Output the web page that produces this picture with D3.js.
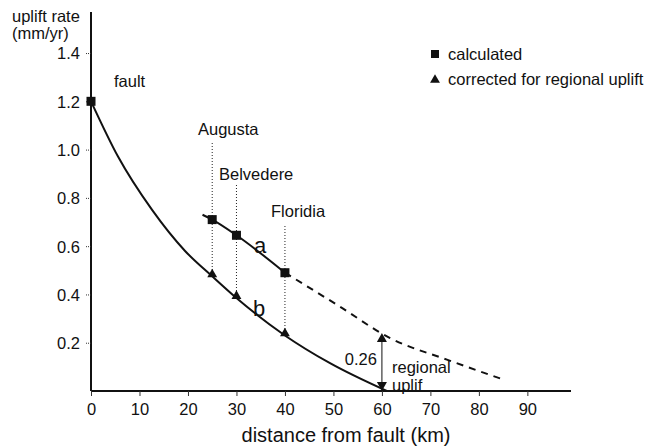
<!DOCTYPE html>
<html>
<head>
  <meta charset="utf-8">
  <title>Uplift rate vs distance from fault</title>
  <style>
    body { margin: 0; background: #fff; }
    svg { display: block; }
    text { font-family: "Liberation Sans", Arial, sans-serif; fill: #111; }
  </style>
  <script src="https://cdn.jsdelivr.net/npm/d3@7"></script>
</head>
<body>
<div id="chart"></div>
<script>

var width = 662,
    height = 448;

// tick values
var xTicks = [0, 10, 20, 30, 40, 50, 60, 70, 80, 90];
var yTicks = [0.2, 0.4, 0.6, 0.8, 1.0, 1.2, 1.4];

// sites (km, calculated, corrected)
var siteNames = ["Augusta", "Belvedere", "Floridia"];
var siteDist = [25, 30, 40];
var calculated = [0.71, 0.645, 0.49];
var corrected = [0.475, 0.385, 0.23];

// fault point
var faultPoint = [0, 1.2];

// curve a (solid part, then dashed extrapolation)
var curveA = [[23, 0.73], [25, 0.71], [30, 0.645], [40, 0.49]];
var curveADashed = [[40, 0.49], [51.3, 0.35], [61.6, 0.22], [73.4, 0.13], [85.4, 0.045]];

// curve b
var curveB = [[0, 1.2], [5.6, 0.97], [12.6, 0.75], [19.4, 0.58], [25, 0.475],
              [30, 0.385], [40, 0.23], [49.3, 0.115], [61, 0]];

// regional uplift arrow
var regional = {x: 60, top: 0.24, value: "0.26"};

var fs = "16.5px";

var svg = d3.select("#chart").append("svg")
  .attr("width", width)
  .attr("height", height);

var x = d3.scaleLinear().domain([0, 99]).range([91, 571]);
var y = d3.scaleLinear().domain([0, 1.57]).range([391, 12]);

// axes
var xAxis = d3.axisBottom(x).tickValues(xTicks).tickSize(5).tickPadding(7)
  .tickFormat(d3.format("d"));
var yAxis = d3.axisLeft(y).tickValues(yTicks).tickSize(5).tickPadding(6)
  .tickFormat(d3.format(".1f"));

var gx = svg.append("g").attr("transform", "translate(0," + y(0) + ")").call(xAxis);
var gy = svg.append("g").attr("transform", "translate(" + x(0) + ",0)").call(yAxis);

[gx, gy].forEach(function(g) {
  g.select(".domain").attr("stroke", "#111").attr("stroke-width", 2);
  g.selectAll(".tick line").attr("stroke", "#333").attr("stroke-width", 1);
  g.selectAll(".tick text")
    .style("font-family", "Liberation Sans, Arial, sans-serif")
    .style("font-size", fs)
    .attr("fill", "#111");
});
gy.selectAll(".tick line").attr("stroke-dasharray", "1,1");
gy.selectAll(".tick text").attr("dy", "0.36em");
gx.select(".domain").attr("d", "M" + x(0) + ",0H" + x(99));
gy.select(".domain").attr("d", "M0," + y(0) + "V" + y(1.57));

// axis titles
svg.append("text").attr("x", 12).attr("y", 22).style("font-size", fs).text("uplift rate");
svg.append("text").attr("x", 12).attr("y", 39).style("font-size", fs).text("(mm/yr)");
svg.append("text").attr("x", 346).attr("y", 442).attr("text-anchor", "middle")
  .style("font-size", "20px").text("distance from fault (km)");

var line = d3.line()
  .x(function(d) { return x(d[0]); })
  .y(function(d) { return y(d[1]); })
  .curve(d3.curveMonotoneX);

// dotted guide lines
svg.selectAll(".guide").data(siteDist).enter().append("line")
  .attr("x1", function(d) { return x(d); })
  .attr("x2", function(d) { return x(d); })
  .attr("y1", function(d, i) { return [143, 185, 226][i]; })
  .attr("y2", function(d, i) { return y(corrected[i]); })
  .attr("stroke", "#222").attr("stroke-width", 1).attr("stroke-dasharray", "1,2");

svg.append("path").datum(curveB).attr("d", line)
  .attr("fill", "none").attr("stroke", "#111").attr("stroke-width", 2);
svg.append("path").datum(curveA).attr("d", line)
  .attr("fill", "none").attr("stroke", "#111").attr("stroke-width", 2);
svg.append("path").datum(curveADashed).attr("d", line)
  .attr("fill", "none").attr("stroke", "#111").attr("stroke-width", 2)
  .attr("stroke-dasharray", "7,6");

// markers
var sq = 9;
svg.selectAll(".calc").data([faultPoint].concat(siteDist.map(function(d, i) { return [d, calculated[i]]; })))
  .enter().append("rect")
  .attr("x", function(d) { return x(d[0]) - sq / 2; })
  .attr("y", function(d) { return y(d[1]) - sq / 2; })
  .attr("width", sq).attr("height", sq).attr("fill", "#111");

var tri = d3.symbol().type(d3.symbolTriangle).size(42);
svg.selectAll(".corr").data(siteDist).enter().append("path")
  .attr("d", tri)
  .attr("transform", function(d, i) { return "translate(" + x(d) + "," + (y(corrected[i]) - 2) + ")"; })
  .attr("fill", "#111");

// site labels
svg.selectAll(".site").data(siteNames).enter().append("text")
  .attr("x", function(d, i) { return [198, 219, 271][i]; })
  .attr("y", function(d, i) { return [135, 180, 217][i]; })
  .style("font-size", fs)
  .text(function(d) { return d; });

svg.append("text").attr("x", 114).attr("y", 87).style("font-size", fs).text("fault");
svg.append("text").attr("x", 254).attr("y", 253).style("font-size", "22px").text("a");
svg.append("text").attr("x", 253).attr("y", 316).style("font-size", "22px").text("b");

// regional uplift arrow
var ax = x(regional.x);
svg.append("line").attr("x1", ax).attr("x2", ax)
  .attr("y1", y(regional.top) + 8).attr("y2", y(0) - 8)
  .attr("stroke", "#111").attr("stroke-width", 1);
svg.append("path").attr("d", "M" + ax + "," + y(regional.top) + "l-5,9h10z").attr("fill", "#111");
svg.append("path").attr("d", "M" + ax + "," + y(0) + "l-5,-9h10z").attr("fill", "#111");
svg.append("text").attr("x", ax - 5).attr("y", 365).attr("text-anchor", "end")
  .style("font-size", fs).text(regional.value);
svg.append("text").attr("x", 392).attr("y", 373).style("font-size", fs).text("regional");
svg.append("text").attr("x", 392).attr("y", 391).style("font-size", fs).text("uplif");

// legend
svg.append("rect").attr("x", 431).attr("y", 50).attr("width", 8).attr("height", 8).attr("fill", "#111");
svg.append("text").attr("x", 448).attr("y", 60).style("font-size", fs).text("calculated");
svg.append("path").attr("d", tri).attr("transform", "translate(435,80)").attr("fill", "#111");
svg.append("text").attr("x", 448).attr("y", 85).style("font-size", fs).text("corrected for regional uplift");

</script>
</body>
</html>
